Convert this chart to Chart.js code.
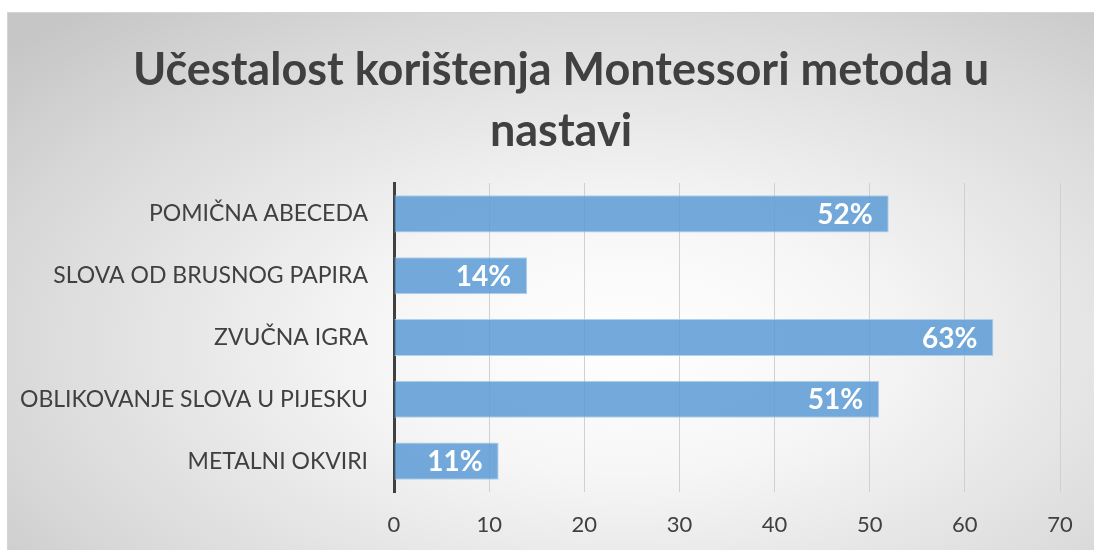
<!DOCTYPE html>
<html>
<head>
<meta charset="utf-8">
<script src="https://cdn.jsdelivr.net/npm/chart.js@4"></script>
<style>
  html, body { margin: 0; padding: 0; background: #fff; overflow: hidden; }
  #wrap { position: relative; width: 1094px; height: 550px; }
  #frame {
    position: absolute; left: 7px; top: 12px; width: 1100px; height: 550px;
    border-left: 1px solid #d4d4d4; border-top: 1px solid #d4d4d4;
    background: radial-gradient(ellipse 75% 80% at 56% 60%, #ffffff 0%, #f6f6f6 30%, #d9d9d9 75%, #c6c6c6 100%);
  }
  canvas { position: absolute; left: 0; top: 0; }
</style>
</head>
<body>
<div id="wrap">
  <div id="frame"></div>
  <canvas id="bar-chart" width="1094" height="550"></canvas>
</div>
<script>
// data
var categories = ["POMIČNA ABECEDA", "SLOVA OD BRUSNOG PAPIRA", "ZVUČNA IGRA", "OBLIKOVANJE SLOVA U PIJESKU", "METALNI OKVIRI"];
var values = [52, 14, 63, 51, 11];
var valueLabels = ["52%", "14%", "63%", "51%", "11%"];
var titleLines = ["Učestalost korištenja Montessori metoda u", "nastavi"];

var font = "Lato, 'Open Sans', sans-serif";

// white value labels at the inner end of each bar
var barLabels = {
    id: 'barLabels',
    afterDatasetsDraw: function (chart) {
        var ctx = chart.ctx;
        var meta = chart.getDatasetMeta(0);
        ctx.save();
        ctx.font = "bold 28px " + font;
        ctx.fillStyle = "#ffffff";
        ctx.textAlign = "right";
        ctx.textBaseline = "middle";
        meta.data.forEach(function (bar, i) {
            ctx.fillText(valueLabels[i], bar.x - 16, bar.y + 1);
        });
        ctx.restore();
    }
};

// title is centred on the whole frame, not on the padded chart box
var frameTitle = {
    id: 'frameTitle',
    afterDraw: function (chart) {
        var ctx = chart.ctx;
        ctx.save();
        ctx.font = "bold 45px " + font;
        ctx.fillStyle = "#404040";
        ctx.textAlign = "center";
        ctx.textBaseline = "middle";
        titleLines.forEach(function (line, i) {
            ctx.fillText(line, 561, 70 + i * 61);
        });
        ctx.restore();
    }
};

new Chart(document.getElementById("bar-chart"), {
    type: 'bar',
    data: {
        labels: categories,
        datasets: [{
            data: values,
            backgroundColor: "rgba(91,155,213,0.85)",
            borderColor: "rgba(170,204,235,0.9)",
            borderWidth: 1,
            borderSkipped: 'start',
            barPercentage: 0.6,
            categoryPercentage: 1
        }]
    },
    plugins: [barLabels, frameTitle],
    options: {
        indexAxis: 'y',
        responsive: false,
        animation: false,
        layout: { padding: { left: 0, right: 34, top: 183, bottom: 0 } },
        plugins: {
            legend: { display: false },
            tooltip: { enabled: false },
            title: { display: false }
        },
        scales: {
            x: {
                min: 0,
                max: 70,
                ticks: { stepSize: 10, color: "#404040", font: { family: font, size: 22 }, padding: 20 },
                grid: { color: "#d0d0d0", lineWidth: 1, drawTicks: false },
                border: { display: false },
                afterFit: function (scale) { scale.height = 58; }
            },
            y: {
                ticks: { color: "#404040", font: { family: font, size: 23 }, padding: 26 },
                grid: { display: false, drawTicks: false },
                border: { display: true, color: "#404040", width: 3 },
                afterFit: function (scale) { scale.width = 394; }
            }
        }
    }
});
</script>
</body>
</html>
